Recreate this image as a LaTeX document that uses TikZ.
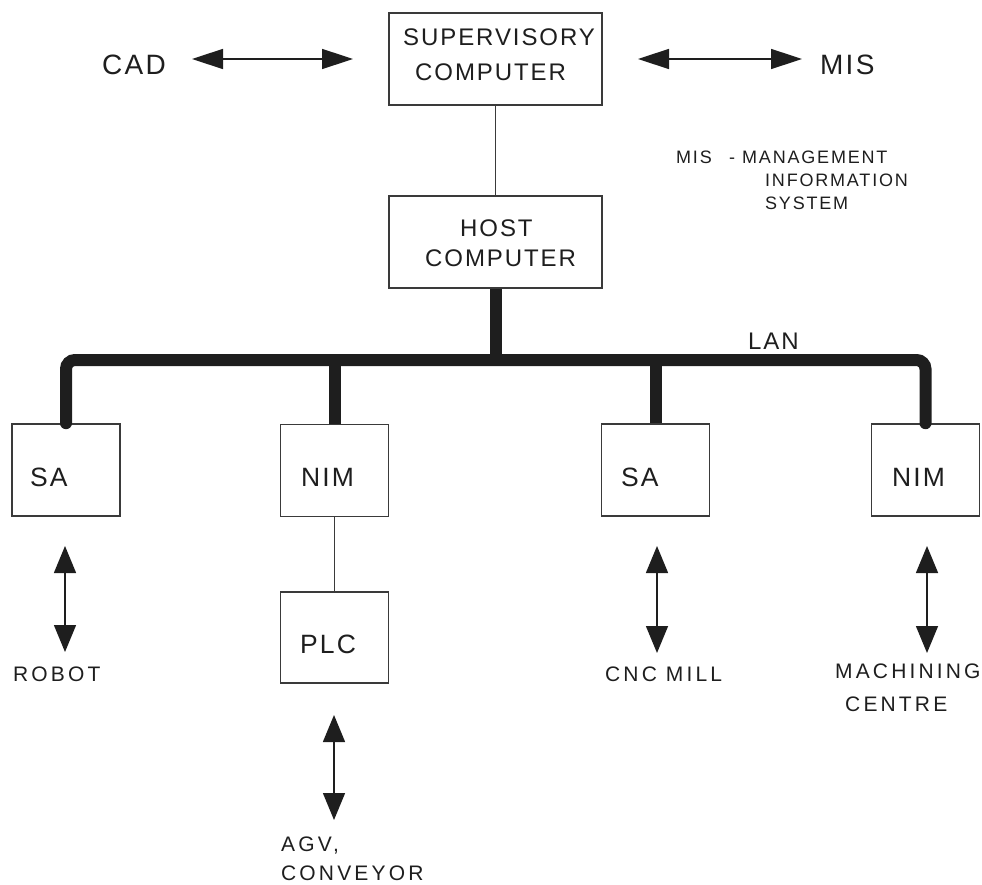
\documentclass[tikz,border=0pt]{standalone}
\usepackage{fontspec}
\setmainfont{Liberation Sans}[LetterSpace=8]
\newfontfamily\wideface{Liberation Sans}[LetterSpace=15]
\newfontfamily\keyface{Liberation Sans}[LetterSpace=10]
\usetikzlibrary{arrows.meta}
\definecolor{ink}{HTML}{1E1E1E}
\definecolor{rule}{HTML}{3A3A3A}
\begin{document}
\begin{tikzpicture}[x=1pt,y=-1pt,
  box/.style={draw=rule,line width=1.6pt,fill=white,inner sep=0pt},
  txt/.style={inner sep=0pt,anchor=base west,text=ink},
  big/.style={txt,font=\fontsize{28}{30}\selectfont},
  mid/.style={txt,font=\fontsize{24}{26}\selectfont},
  lab/.style={txt,font=\fontsize{26.5}{28}\selectfont},
  sml/.style={txt,font=\wideface\fontsize{21}{23}\selectfont},
  tiny/.style={txt,font=\keyface\fontsize{18}{20}\selectfont},
  link/.style={draw=rule,line width=1.4pt},
  bus/.style={draw=ink,line width=12pt},
  twoway/.style={draw=ink,line width=1.5pt,
    {Triangle[length=31pt,width=20pt]}-{Triangle[length=31pt,width=20pt]}},
  twowayv/.style={draw=ink,line width=1.5pt,
    {Triangle[length=27pt,width=22pt]}-{Triangle[length=27pt,width=22pt]}}]
\useasboundingbox (0,0) rectangle (982,885);

% computers
\node[box,minimum width=213pt,minimum height=92pt] (sup) at (495.5,59) {};
\node[box,minimum width=213pt,minimum height=92pt] (host) at (495.5,242) {};
\node[mid] (supA) at (403,45.5) {SUPERVISORY};
\node[mid] (supB) at (415,80.5) {COMPUTER};
\node[mid] (hostA) at (460,237) {HOST};
\node[mid] (hostB) at (425,267) {COMPUTER};

% outside systems
\node[big] (cad) at (102,75) {CAD};
\node[big] (mis) at (820,75) {MIS};
\coordinate (cadL) at (192,59);
\coordinate (cadR) at (353,59);
\coordinate (misL) at (638,59);
\coordinate (misR) at (802,59);
\draw[twoway] (cadL) -- (cadR);
\draw[twoway] (misL) -- (misR);

% legend
\node[tiny] (lgA) at (676,163.5) {MIS};
\node[tiny] (lgB) at (729,163.5) {-};
\node[tiny] (lgC) at (742,163.5) {MANAGEMENT};
\node[tiny] (lgD) at (765,186.5) {INFORMATION};
\node[tiny] (lgE) at (765,209.5) {SYSTEM};

\draw[link] (sup.south) -- (host.north);

% stations on the network
\node[box,minimum width=108pt,minimum height=92pt] (sa1) at (66,470) {};
\node[box,minimum width=108pt,minimum height=92pt] (nim1) at (334.5,470.5) {};
\node[box,minimum width=108pt,minimum height=92pt] (sa2) at (655.5,470) {};
\node[box,minimum width=108pt,minimum height=92pt] (nim2) at (925.5,470) {};
\node[box,minimum width=108pt,minimum height=91pt] (plc) at (334.5,637.5) {};

% LAN bus
\coordinate (busL) at (66,360);
\coordinate (busR) at (925.5,360);
\draw[bus,line cap=round,rounded corners=9pt] (sa1.north) -- (busL) -- (busR) -- (nim2.north);
\draw[bus] (host.south) -- (host.south |- busL);
\draw[bus] (nim1.north) -- (nim1.north |- busL);
\draw[bus] (sa2.north) -- (sa2.north |- busL);
\node[mid] (lan) at (748,349) {LAN};

\node[lab] (saA) at (30,486) {SA};
\node[lab] (nimA) at (301,486) {NIM};
\node[lab] (saB) at (621,486) {SA};
\node[lab] (nimB) at (892,486) {NIM};
\node[lab] (plcA) at (300,653) {PLC};

\draw[link] (nim1.south) -- (plc.north);

% machines
\coordinate (robT) at (65,546);
\coordinate (robB) at (65,652);
\coordinate (cncT) at (657,546);
\coordinate (cncB) at (657,653);
\coordinate (macT) at (927,546);
\coordinate (macB) at (927,653);
\coordinate (agvT) at (334,715);
\coordinate (agvB) at (334,820);
\draw[twowayv] (robT) -- (robB);
\draw[twowayv] (cncT) -- (cncB);
\draw[twowayv] (macT) -- (macB);
\draw[twowayv] (agvT) -- (agvB);

\node[sml] (robot) at (13,681) {ROBOT};
\node[sml] (cnc) at (605,681) {CNC MILL};
\node[sml] (mac1) at (835,678) {MACHINING};
\node[sml] (mac2) at (845,711) {CENTRE};
\node[sml] (agv1) at (281,851) {AGV,};
\node[sml] (agv2) at (281,880) {CONVEYOR};
\end{tikzpicture}
\end{document}
